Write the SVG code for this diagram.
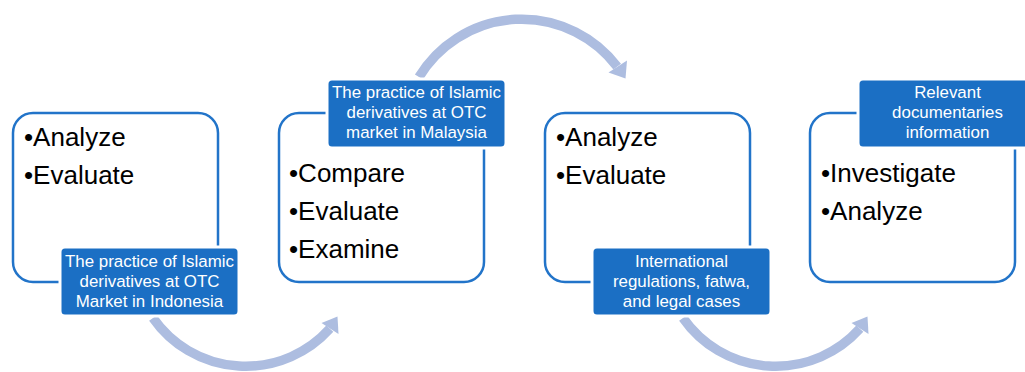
<svg xmlns="http://www.w3.org/2000/svg" width="1025" height="372" viewBox="0 0 1025 372">
<style>
.box{fill:#fff;stroke:#2274C9;stroke-width:2.5}
.lbl{fill:#1B6FC4;stroke:#fff;stroke-width:3}
.lt{font-family:"Liberation Sans",Arial,sans-serif;font-size:16.9px;fill:#fff;text-anchor:middle}
.bt{font-family:"Liberation Sans",Arial,sans-serif;font-size:26px;fill:#000}
.arc{fill:none;stroke:#ADBDE0;stroke-width:9.5}
.head{fill:#ADBDE0}
</style>
<rect width="1025" height="372" fill="#fff"/>
<g id="connectors">
<path class="arc" d="M 153 318 A 113 113 0 0 0 329.8 328.7"/>
<polygon class="head" points="337.5,316.5 338.5,334 321.5,323"/>
<path class="arc" d="M 419 77 A 120 120 0 0 1 617.2 66.6"/>
<polygon class="head" points="625.5,78.5 627,60.5 608.5,72.5"/>
<path class="arc" d="M 683 318 A 113 113 0 0 0 859.8 328.7"/>
<polygon class="head" points="867.5,316.5 868.5,334 851.5,323"/>
</g>
<g id="node1">
<rect class="box" x="13" y="113" width="205" height="169" rx="20"/>
<text class="bt" x="24" y="146">•Analyze</text>
<text class="bt" x="24" y="184">•Evaluate</text>
<rect class="lbl" x="60" y="247" width="179" height="69" rx="5"/>
<text class="lt" x="149.5" y="267">The practice of Islamic</text>
<text class="lt" x="149.5" y="287">derivatives at OTC</text>
<text class="lt" x="149.5" y="307">Market in Indonesia</text>
</g>
<g id="node2">
<rect class="box" x="279" y="113" width="205" height="169" rx="20"/>
<text class="bt" x="289" y="182">•Compare</text>
<text class="bt" x="289" y="220">•Evaluate</text>
<text class="bt" x="289" y="258">•Examine</text>
<rect class="lbl" x="327" y="79" width="179" height="69" rx="5"/>
<text class="lt" x="416.5" y="98">The practice of Islamic</text>
<text class="lt" x="416.5" y="118">derivatives at OTC</text>
<text class="lt" x="416.5" y="138">market in Malaysia</text>
</g>
<g id="node3">
<rect class="box" x="545" y="113" width="205" height="169" rx="20"/>
<text class="bt" x="556" y="146">•Analyze</text>
<text class="bt" x="556" y="184">•Evaluate</text>
<rect class="lbl" x="592" y="247" width="179" height="69" rx="5"/>
<text class="lt" x="681.5" y="267">International</text>
<text class="lt" x="681.5" y="287">regulations, fatwa,</text>
<text class="lt" x="681.5" y="307">and legal cases</text>
</g>
<g id="node4">
<rect class="box" x="810" y="113" width="205" height="169" rx="20"/>
<text class="bt" x="821" y="182">•Investigate</text>
<text class="bt" x="821" y="220">•Analyze</text>
<rect class="lbl" x="858" y="79" width="179" height="69" rx="5"/>
<text class="lt" x="947.5" y="98">Relevant</text>
<text class="lt" x="947.5" y="118">documentaries</text>
<text class="lt" x="947.5" y="138">information</text>
</g>
</svg>
